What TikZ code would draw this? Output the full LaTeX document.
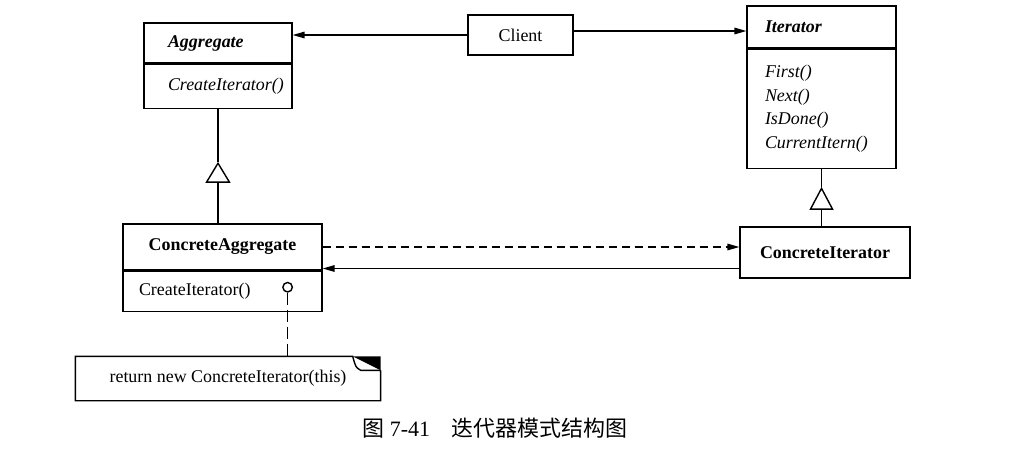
\documentclass[tikz,border=0pt]{standalone}
\usepackage{fontspec}
\setmainfont{Liberation Serif}
\newfontfamily\cjk{Noto Sans CJK SC}
\usetikzlibrary{positioning, arrows.meta}

\begin{document}
\begin{tikzpicture}[
    x=0.02cm, y=-0.02cm,
    line width=0.8pt,
    node distance=0cm,
    every node/.style={
      font=\fontsize{10.2pt}{13.4pt}\selectfont,
      inner sep=0pt
    },
    part/.style={
      draw,
      rectangle,
      line width=0.7pt,
      align=left
    },
    assoc/.style={-{Triangle[length=0.24cm,width=0.13cm]}},
    inherit/.style={-{Triangle[open,length=0.42cm,width=0.5cm]}},
    depend/.style={dash pattern=on 0.16cm off 0.1cm},
    notelink/.style={dash pattern=on 0.24cm off 0.1cm}
  ]
    \useasboundingbox (0,0) rectangle (1030,451);

    % abstract classes
    \node[part, minimum width=2.96cm, minimum height=0.8cm, text width=2.0cm] (aggname) at (218,43) {\textbf{\textit{Aggregate}}};
    \node[part, minimum width=2.96cm, minimum height=0.88cm, text width=2.0cm] (aggops) [below=of aggname] {\textit{CreateIterator()}};
    \node[part, minimum width=2.1cm, minimum height=0.8cm, align=center] (client) at (520.5,35) {Client};
    \node[part, minimum width=2.98cm, minimum height=0.84cm, text width=2.26cm] (itername) at (821.5,27) {\textbf{\textit{Iterator}}};
    \node[part, minimum width=2.98cm, minimum height=2.38cm, text width=2.26cm] (iterops) [below=of itername] {\textit{First()}\\ \textit{Next()}\\ \textit{IsDone()}\\ \textit{CurrentItern()}};

    % concrete classes
    \node[part, minimum width=3.98cm, minimum height=0.92cm, align=center] (caggname) at (222.5,247) {\textbf{ConcreteAggregate}};
    \node[part, minimum width=3.98cm, minimum height=0.8cm, text width=3.34cm] (caggops) [below=of caggname] {CreateIterator()};
    \node[part, minimum width=3.4cm, minimum height=1.02cm, align=center] (citer) at (825,252.5) {\textbf{ConcreteIterator}};

    % note
    \node[circle, draw, minimum size=0.19cm] (opdot) at ([xshift=-0.7cm,yshift=0.08cm]caggops.east) {};
    \node[minimum width=6.08cm, minimum height=0.86cm] (note) at (228,378.5) {return new ConcreteIterator(this)};
    \fill ([xshift=-0.56cm]note.north east) -- (note.north east) -- ([yshift=-0.28cm]note.north east) -- cycle;
    \draw ([yshift=-0.28cm]note.north east) -- (note.south east) -- (note.south west)
          -- (note.north west) -- ([xshift=-0.56cm]note.north east)
          .. controls ([xshift=-0.5cm,yshift=-0.22cm]note.north east) .. ([xshift=-0.4cm,yshift=-0.28cm]note.north east)
          -- ([yshift=-0.28cm]note.north east);
    \draw[notelink] (opdot.south) -- (opdot.south |- note.north);

    % associations
    \draw[assoc] (client.west) -- (client.west -| aggname.east);
    \draw[assoc] ([yshift=0.08cm]client.east) -- ([yshift=0.08cm]client.east -| itername.west);
    \draw[assoc, depend] (caggname.east) -- (caggname.east -| citer.west);
    \draw[assoc] ([yshift=-0.32cm]citer.west) -- ([yshift=-0.32cm]citer.west -| caggname.east);

    % inheritance
    \coordinate (aggtip) at ([yshift=-1.06cm]aggops.south);
    \draw[inherit] (aggops.south |- caggname.north) -- (aggtip);
    \draw (aggtip) -- (aggops.south);
    \coordinate (itertip) at ([yshift=-0.36cm]iterops.south);
    \draw[-{Triangle[open,length=0.46cm,width=0.48cm]}] (iterops.south |- citer.north) -- (itertip);
    \draw (itertip) -- (iterops.south);

    \node[font=\fontsize{12.5pt}{15pt}\selectfont] (caption) at (495,428) {{\cjk 图} 7-41\quad{\cjk 迭代器模式结构图}};
\end{tikzpicture}
\end{document}
